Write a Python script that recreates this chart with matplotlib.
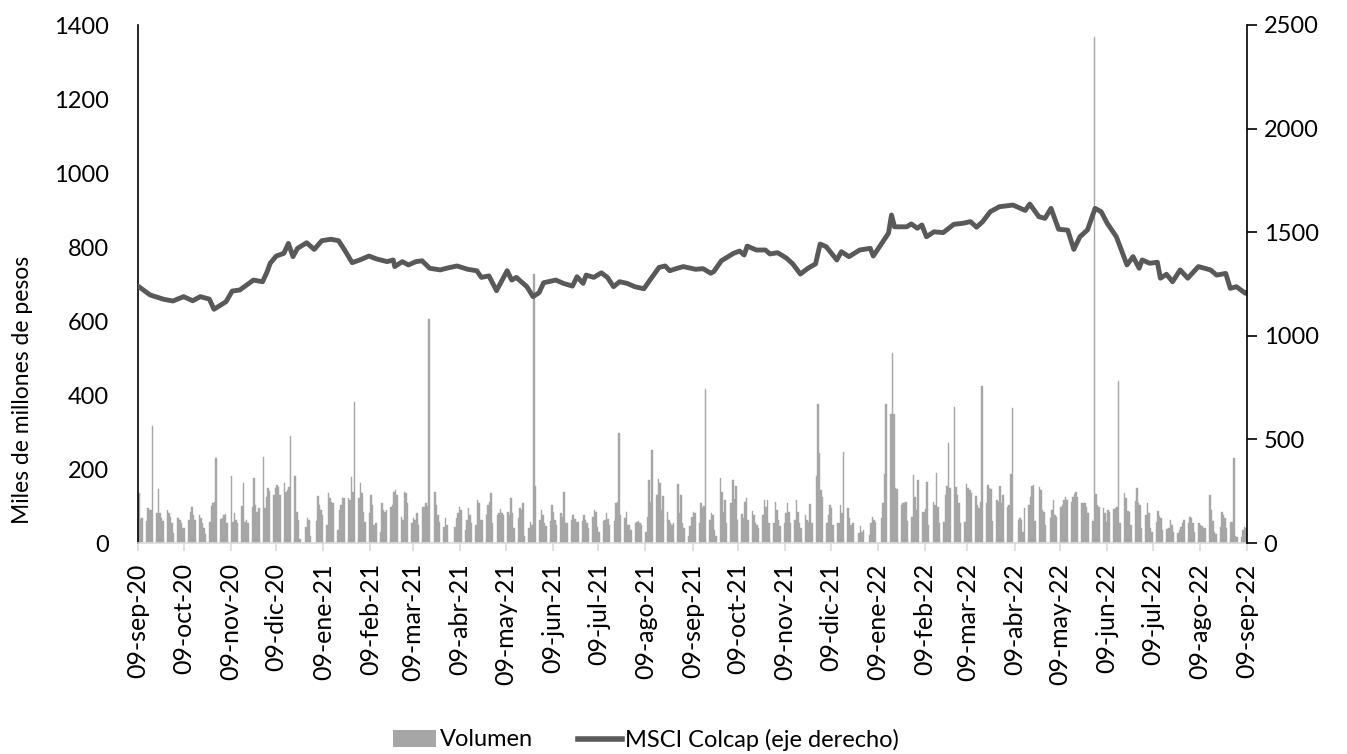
import matplotlib
matplotlib.use('Agg')
import matplotlib.pyplot as plt
import pandas as pd
from matplotlib.patches import Patch
from matplotlib.lines import Line2D

plt.rcParams['font.family'] = ['Lato', 'DejaVu Sans']

# Volumen diario (miles de millones de pesos), días hábiles desde 09-sep-20
volumen = [
    134, 65, 67,
    60, 94, 90, 88, 316,   80, 145, 80, 67, 60,   88, 80, 70, 53, 28,   67, 62, 55, 40, 40,
    62, 85, 98, 75, 62,    76, 68, 55, 40, 25,    58, 100, 107, 110, 229,   64, 67, 76, 78, 55,
    181, 58, 80, 62, 53,   100, 161, 58, 62, 55,  98, 175, 103, 85, 95,   233, 94, 125, 148, 140,
    130, 148, 157, 152, 130,  161, 139, 143, 152, 289,  181, 85, 62, 10, 0,  44, 67, 62, 20, 0,
    60, 127, 103, 90, 76,  50, 136, 121, 112, 107,  35, 89, 103, 121, 121,  121, 116, 179, 139, 381,
    121, 161, 134, 85, 58,  80, 130, 103, 49, 53,  30, 107, 89, 85, 89,  98, 103, 139, 143, 130,
    71, 62, 139, 134, 107,  53, 67, 62, 80, 50,  98, 98, 107, 100, 605,  0, 139, 103, 76, 58,
    44, 67, 49, 0, 0,  44, 67, 80, 98, 89,  35, 62, 94, 76, 53,  49, 116, 107, 62, 62,
    76, 103, 112, 136, 53,  76, 80, 91, 80, 76,  85, 76, 121, 80, 40,  67, 94, 89, 107, 20,
    40, 58, 50, 727, 154,  62, 89, 76, 53, 45,  60, 103, 85, 62, 50,  80, 70, 139, 53, 55,
    62, 76, 65, 58, 58,  60, 76, 62, 55, 40,  71, 89, 85, 44, 30,  60, 62, 80, 65, 50,
    60, 107, 110, 296, 75,  67, 85, 50, 50, 35,  55, 58, 60, 53, 50,  31, 71, 170, 110, 251,
    130, 172, 161, 89, 127,  85, 62, 55, 50, 55,  159, 80, 130, 53, 40,  20, 45, 70, 85, 80,
    53, 107, 94, 100, 415,  62, 80, 76, 35, 20,  175, 139, 85, 116, 53,  107, 170, 120, 154, 62,
    78, 67, 112, 121, 62,  87, 76, 53, 49, 40,  76, 116, 98, 116, 53,  53, 112, 89, 62, 45,
    53, 80, 109, 85, 53,  62, 116, 85, 53, 40,  76, 62, 58, 105, 53,  181, 375, 242, 143, 125,
    53, 76, 103, 94, 50,  53, 53, 103, 80, 247,  94, 67, 50, 53, 0,  26, 46, 31, 35, 0,
    22, 53, 69, 62, 58,  0, 67, 107, 186, 377,  349, 514, 349, 150, 145,  103, 107, 107, 112, 60,
    71, 184, 125, 89, 170,  85, 85, 91, 166, 50,  112, 103, 190, 98, 55,  58, 130, 154, 271, 150,
    368, 152, 130, 107, 55,  58, 159, 148, 143, 136,  127, 103, 95, 110, 424,  107, 157, 148, 145, 60,
    116, 112, 155, 107, 130,  98, 103, 186, 364, 0,  62, 67, 62, 30, 94,  103, 125, 154, 157, 60,
    152, 143, 89, 85, 50,  67, 89, 116, 76, 71,  98, 103, 116, 125, 116,  112, 125, 132, 139, 125,
    109, 107, 107, 98, 80,  60, 1368, 132, 103, 98,  94, 80, 58, 89, 85,  91, 94, 98, 438, 55,
    136, 121, 86, 85, 50,  114, 150, 107, 103, 40,  76, 107, 80, 40, 30,  58, 87, 73, 67, 35,
    37, 40, 62, 50, 30,  26, 35, 44, 53, 62,  53, 71, 67, 55, 30,  53, 49, 45, 40, 40,
    130, 89, 60, 31, 25,  44, 85, 76, 67, 40,  58, 58, 229, 20, 15,  17, 35, 44, 40, 30,
]

# MSCI Colcap (eje derecho)
colcap_fechas = [
    '2020-09-09', '2020-09-17', '2020-09-26', '2020-10-02', '2020-10-09', '2020-10-15',
    '2020-10-20', '2020-10-26', '2020-10-29', '2020-11-06', '2020-11-10', '2020-11-15',
    '2020-11-24', '2020-11-30', '2020-12-03', '2020-12-05', '2020-12-09', '2020-12-14',
    '2020-12-17', '2020-12-20', '2020-12-23', '2020-12-29',
    '2021-01-03', '2021-01-08', '2021-01-14', '2021-01-19', '2021-01-23', '2021-01-28',
    '2021-02-02', '2021-02-08', '2021-02-13', '2021-02-20', '2021-02-24', '2021-02-25',
    '2021-03-02', '2021-03-06', '2021-03-11', '2021-03-15', '2021-03-20', '2021-03-27', '2021-03-31',
    '2021-04-07', '2021-04-14', '2021-04-20', '2021-04-23', '2021-04-28',
    '2021-05-03', '2021-05-10', '2021-05-13', '2021-05-16', '2021-05-23', '2021-05-27', '2021-05-31',
    '2021-06-03', '2021-06-11', '2021-06-16', '2021-06-22', '2021-06-25', '2021-06-29',
    '2021-07-01', '2021-07-06', '2021-07-11', '2021-07-15', '2021-07-19', '2021-07-23', '2021-07-28',
    '2021-08-02', '2021-08-08', '2021-08-12', '2021-08-18', '2021-08-22', '2021-08-25', '2021-08-30',
    '2021-09-03', '2021-09-11', '2021-09-16', '2021-09-21', '2021-09-23', '2021-09-28',
    '2021-10-06', '2021-10-10', '2021-10-13', '2021-10-15', '2021-10-21', '2021-10-27', '2021-10-30',
    '2021-11-04', '2021-11-07', '2021-11-10', '2021-11-14', '2021-11-19', '2021-11-24', '2021-11-29',
    '2021-12-02', '2021-12-06', '2021-12-13', '2021-12-16', '2021-12-21', '2021-12-28',
    '2022-01-04', '2022-01-06', '2022-01-13', '2022-01-16', '2022-01-18', '2022-01-20',
    '2022-01-28', '2022-01-31',
    '2022-02-04', '2022-02-07', '2022-02-10', '2022-02-15', '2022-02-21', '2022-02-28',
    '2022-03-06', '2022-03-11', '2022-03-15', '2022-03-19', '2022-03-24', '2022-03-30',
    '2022-04-08', '2022-04-13', '2022-04-16', '2022-04-19', '2022-04-25', '2022-04-29',
    '2022-05-03', '2022-05-08', '2022-05-14', '2022-05-18', '2022-05-22', '2022-05-27',
    '2022-06-01', '2022-06-05', '2022-06-09', '2022-06-15', '2022-06-22', '2022-06-26', '2022-06-30',
    '2022-07-02', '2022-07-07', '2022-07-12', '2022-07-14', '2022-07-18', '2022-07-22', '2022-07-27',
    '2022-08-01', '2022-08-08', '2022-08-16', '2022-08-20', '2022-08-26', '2022-08-29',
    '2022-09-02', '2022-09-08', '2022-09-09',
]
colcap_valores = [
    1240, 1197, 1176, 1168, 1189, 1169, 1189, 1177, 1128, 1165, 1216, 1221,
    1269, 1261, 1309, 1350, 1385, 1398, 1446, 1382, 1422, 1449,
    1417, 1459, 1466, 1459, 1414, 1353,
    1366, 1385, 1371, 1358, 1366, 1334,
    1358, 1342, 1358, 1362, 1326, 1318, 1326,
    1337, 1321, 1314, 1282, 1289,
    1218, 1314, 1269, 1282, 1237, 1189, 1208,
    1256, 1269, 1253, 1240, 1285, 1253,
    1293, 1282, 1304, 1282, 1237, 1261, 1253,
    1237, 1227, 1269, 1330, 1337, 1314, 1326,
    1334, 1321, 1324, 1302, 1310, 1362,
    1398, 1409, 1390, 1433, 1414, 1414, 1395,
    1401, 1388, 1374, 1347, 1298, 1326, 1347,
    1443, 1430, 1366, 1406, 1382, 1414,
    1422, 1385, 1462, 1495, 1583, 1526, 1526, 1540,
    1519, 1535, 1478, 1502, 1498, 1538,
    1543, 1551, 1524, 1551, 1599, 1623,
    1631, 1615, 1605, 1636, 1575, 1567,
    1615, 1514, 1510, 1417, 1478, 1511,
    1615, 1599, 1543, 1478, 1342, 1382, 1326,
    1366, 1350, 1355, 1278, 1297, 1261, 1318,
    1278, 1334, 1318, 1293, 1301, 1229,
    1237, 1205, 1210,
]

etiquetas_x = ['09-sep-20', '09-oct-20', '09-nov-20', '09-dic-20', '09-ene-21', '09-feb-21',
               '09-mar-21', '09-abr-21', '09-may-21', '09-jun-21', '09-jul-21', '09-ago-21',
               '09-sep-21', '09-oct-21', '09-nov-21', '09-dic-21', '09-ene-22', '09-feb-22',
               '09-mar-22', '09-abr-22', '09-may-22', '09-jun-22', '09-jul-22', '09-ago-22',
               '09-sep-22']

color_barra = '#a6a6a6'
color_linea = '#595959'

dias = pd.bdate_range('2020-09-09', '2022-09-09')
n = min(len(dias), len(volumen))
dias = dias[:n]
vol = volumen[:n]

fig = plt.figure(figsize=(13.47, 7.54), dpi=100)
ax = fig.add_axes([138 / 1347, 1 - 543 / 754, (1247 - 138) / 1347, (543 - 25) / 754])
ax.bar(dias, vol, width=1.0, align='edge', color=color_barra,
       edgecolor=color_barra, linewidth=0.3, zorder=1)

ax2 = ax.twinx()
ax2.plot(pd.to_datetime(colcap_fechas), colcap_valores, color=color_linea, lw=3.5,
         solid_joinstyle='round', solid_capstyle='round')

ax.set_xlim(pd.Timestamp('2020-09-09'), pd.Timestamp('2022-09-09'))
ticks_x = pd.date_range('2020-09-09', periods=len(etiquetas_x), freq=pd.DateOffset(months=1))
ax.set_xticks(ticks_x)
ax.set_xticklabels(etiquetas_x, rotation=90)
ax.tick_params(axis='x', length=6, width=1.2, color='#d9d9d9', pad=8.5, labelsize=18)

ax.set_ylim(0, 1400)
ax.set_yticks(range(0, 1401, 200))
ax.tick_params(axis='y', length=0, pad=21, labelsize=17)

ax2.set_ylim(0, 2500)
ax2.set_yticks(range(0, 2501, 500))
ax2.tick_params(axis='y', length=7, width=1.2, pad=5, labelsize=17, direction='out')

for a in (ax, ax2):
    a.spines['top'].set_visible(False)
ax.spines['right'].set_visible(False)
ax.spines['bottom'].set_color('#d9d9d9')
ax.spines['bottom'].set_linewidth(1.2)
ax.spines['left'].set_linewidth(1.2)
ax2.spines['left'].set_visible(False)
ax2.spines['bottom'].set_visible(False)
ax2.spines['right'].set_linewidth(1.2)

fig.text(23 / 1347, 1 - 390 / 754, 'Miles de millones de pesos', rotation=90,
         ha='center', va='center', fontsize=16.5)

leg1 = fig.legend(handles=[Patch(facecolor=color_barra, label='Volumen')],
                  loc='center left', bbox_to_anchor=(393 / 1347, 1 - 740 / 754),
                  frameon=False, fontsize=17, handlelength=1.8, handletextpad=0.2,
                  borderpad=0, borderaxespad=0)
leg2 = fig.legend(handles=[Line2D([0], [0], color=color_linea, lw=4, label='MSCI Colcap (eje derecho)')],
                  loc='center left', bbox_to_anchor=(578 / 1347, 1 - 740 / 754),
                  frameon=False, fontsize=17, handlelength=1.86, handletextpad=0.13,
                  borderpad=0, borderaxespad=0)

fig.savefig('out.png', dpi=100)
